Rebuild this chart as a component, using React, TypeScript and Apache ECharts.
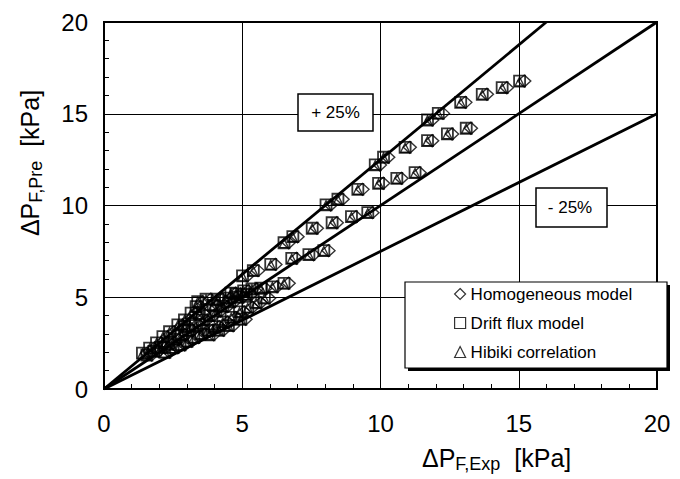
import React, { useEffect, useRef } from "react";
import * as echarts from "echarts";

const FONT = "'Liberation Sans', Arial, sans-serif";

const axisMin = 0;
const axisMax = 20;
const axisInterval = 5;

const legendNames = ["Homogeneous model", "Drift flux model", "Hibiki correlation"];

const upperLine = [[0, 0], [16, 20]];
const equalLine = [[0, 0], [20, 20]];
const lowerLine = [[0, 0], [20, 15]];

const driftFlux = [
  [15.03, 16.78], [14.4, 16.42], [13.68, 16.06], [12.9, 15.62], [12.09, 15.02], [11.7, 14.66],
  [13.1, 14.21], [12.42, 13.9], [11.7, 13.53],
  [10.89, 13.17], [10.11, 12.63], [9.81, 12.21],
  [11.25, 11.79], [10.59, 11.48], [9.93, 11.21], [9.18, 10.88],
  [8.46, 10.34], [8.03, 10.03],
  [9.54, 9.61], [8.95, 9.39], [8.25, 9.06], [7.53, 8.76],
  [6.83, 8.3], [6.51, 7.97],
  [7.95, 7.54], [7.41, 7.32], [6.79, 7.12],
  [6.03, 6.79], [5.4, 6.45], [5.01, 6.16],
  [6.51, 5.76], [6.09, 5.57], [5.67, 5.49], [4.77, 5.18],
  [1.39, 1.95], [1.65, 2.23], [1.9, 2.51], [2.13, 2.85], [2.37, 3.12], [2.67, 3.49], [2.91, 3.76],
  [3.15, 4.13], [3.33, 4.49], [3.39, 4.76], [3.69, 4.89], [4.11, 4.89], [4.59, 5.22],
  [1.55, 1.85], [1.8, 2.05], [2.05, 2.25], [2.3, 2.45], [2.55, 2.7], [2.8, 2.95], [3.05, 3.2],
  [3.3, 3.45], [3.55, 3.75], [3.8, 4.0], [4.05, 4.25], [4.3, 4.5], [4.55, 4.75], [4.85, 5.0], [5.15, 5.15],
  [2.2, 2.0], [2.5, 2.25], [2.75, 2.4], [3.0, 2.6], [3.25, 2.8], [3.5, 3.0], [3.75, 3.2],
  [4.0, 3.4], [4.3, 3.65], [4.6, 3.9], [4.9, 4.2], [5.2, 4.45], [5.5, 4.7], [5.8, 4.95],
  [2.9, 3.4], [3.45, 4.1], [3.95, 4.55], [4.4, 4.95], [5.05, 5.35], [5.35, 5.45],
  [3.8, 2.95], [4.15, 3.2], [4.5, 3.45], [4.95, 3.8],
];

const hibiki = [
  [15.03, 16.76], [14.4, 16.4], [13.68, 16.04], [12.9, 15.6], [12.09, 15.0], [11.7, 14.64],
  [13.1, 14.19], [12.42, 13.88], [11.7, 13.51],
  [10.89, 13.15], [10.11, 12.61], [9.81, 12.19],
  [11.25, 11.77], [10.59, 11.46], [9.93, 11.19], [9.18, 10.86],
  [8.46, 10.32], [8.03, 10.01],
  [9.54, 9.59], [8.95, 9.37], [8.25, 9.04], [7.53, 8.74],
  [6.83, 8.28], [6.51, 7.95],
  [7.95, 7.52], [7.41, 7.3], [6.79, 7.1],
  [6.03, 6.77], [5.4, 6.43], [5.01, 6.14],
  [6.51, 5.74], [6.09, 5.55], [5.67, 5.47], [4.77, 5.16],
  [1.39, 1.93], [1.65, 2.21], [1.9, 2.49], [2.13, 2.83], [2.37, 3.1], [2.67, 3.47], [2.91, 3.74],
  [3.15, 4.11], [3.33, 4.47], [3.39, 4.74], [3.69, 4.87], [4.11, 4.87], [4.59, 5.2],
  [1.55, 1.83], [1.8, 2.03], [2.05, 2.23], [2.3, 2.43], [2.55, 2.68], [2.8, 2.93], [3.05, 3.18],
  [3.3, 3.43], [3.55, 3.73], [3.8, 3.98], [4.05, 4.23], [4.3, 4.48], [4.55, 4.73], [4.85, 4.98], [5.15, 5.13],
  [2.2, 1.98], [2.5, 2.23], [2.75, 2.38], [3.0, 2.58], [3.25, 2.78], [3.5, 2.98], [3.75, 3.18],
  [4.0, 3.38], [4.3, 3.63], [4.6, 3.88], [4.9, 4.18], [5.2, 4.43], [5.5, 4.68], [5.8, 4.93],
  [2.9, 3.38], [3.45, 4.08], [3.95, 4.53], [4.4, 4.93], [5.05, 5.33], [5.35, 5.43],
  [3.8, 2.93], [4.15, 3.18], [4.5, 3.43], [4.95, 3.78],
];

const homogeneous = [
  [15.2, 16.78], [14.57, 16.42], [13.85, 16.06], [13.07, 15.62], [12.26, 15.02], [11.87, 14.66],
  [13.27, 14.21], [12.59, 13.9], [11.87, 13.53],
  [11.06, 13.17], [10.28, 12.63], [9.98, 12.21],
  [11.42, 11.79], [10.76, 11.48], [10.1, 11.21], [9.35, 10.88],
  [8.63, 10.34], [8.2, 10.03],
  [9.71, 9.61], [9.12, 9.39], [8.42, 9.06], [7.7, 8.76],
  [7.0, 8.3], [6.68, 7.97],
  [8.12, 7.54], [7.58, 7.32], [6.96, 7.12],
  [6.2, 6.79], [5.57, 6.45], [5.18, 6.16],
  [6.68, 5.76], [6.26, 5.57], [5.84, 5.49], [4.94, 5.18],
  [1.56, 1.95], [1.82, 2.23], [2.07, 2.51], [2.3, 2.85], [2.54, 3.12], [2.84, 3.49], [3.08, 3.76],
  [3.32, 4.13], [3.5, 4.49], [3.56, 4.76], [3.86, 4.89], [4.28, 4.89], [4.76, 5.22],
  [1.72, 1.85], [1.97, 2.05], [2.22, 2.25], [2.47, 2.45], [2.72, 2.7], [2.97, 2.95], [3.22, 3.2],
  [3.47, 3.45], [3.72, 3.75], [3.97, 4.0], [4.22, 4.25], [4.47, 4.5], [4.72, 4.75], [5.02, 5.0], [5.32, 5.15],
  [2.37, 2.0], [2.67, 2.25], [2.92, 2.4], [3.17, 2.6], [3.42, 2.8], [3.67, 3.0], [3.92, 3.2],
  [4.17, 3.4], [4.47, 3.65], [4.77, 3.9], [5.07, 4.2], [5.37, 4.45], [5.67, 4.7], [5.97, 4.95],
  [3.07, 3.4], [3.62, 4.1], [4.12, 4.55], [4.57, 4.95], [5.22, 5.35], [5.52, 5.45],
  [3.97, 2.95], [4.32, 3.2], [4.67, 3.45], [5.12, 3.8],
];

function makeAxis(margin: number) {
  return {
    type: "value",
    min: axisMin,
    max: axisMax,
    interval: axisInterval,
    axisLine: { show: true, onZero: false, lineStyle: { color: "#000", width: 2 } },
    axisTick: { show: true, inside: true, length: 6, lineStyle: { color: "#000", width: 1 } },
    minorTick: { show: true, splitNumber: 5, length: 5, lineStyle: { color: "#000", width: 1 } },
    splitLine: { show: true, lineStyle: { color: "#000", width: 1 } },
    axisLabel: { fontSize: 24, color: "#000", fontFamily: FONT, margin },
  };
}

const scatterStyle = { color: "transparent", borderColor: "#000", borderWidth: 1.4 };

const titleRich = {
  m: { fontSize: 25, fontFamily: FONT, fill: "#000", lineHeight: 30 },
  s: { fontSize: 18, fontFamily: FONT, fill: "#000", lineHeight: 18, verticalAlign: "bottom" },
};

const option = {
  animation: false,
  backgroundColor: "#fff",
  grid: {
    left: 104,
    top: 22,
    width: 553,
    height: 367,
    show: true,
    borderColor: "#000",
    borderWidth: 2,
    containLabel: false,
  },
  xAxis: makeAxis(22),
  yAxis: makeAxis(16),
  legend: {
    orient: "vertical",
    left: 449,
    top: 279,
    z: 60,
    itemWidth: 11,
    itemHeight: 11,
    itemGap: 9,
    textStyle: { fontSize: 17, color: "#000", fontFamily: FONT, lineHeight: 20 },
    itemStyle: { color: "transparent", borderColor: "#000", borderWidth: 1.2 },
    data: [
      { name: legendNames[0], icon: "diamond" },
      { name: legendNames[1], icon: "rect" },
      { name: legendNames[2], icon: "triangle" },
    ],
  },
  graphic: [
    { type: "rect", z: 50, shape: { x: 298, y: 94, width: 75, height: 37 }, style: { fill: "#fff", stroke: "#000", lineWidth: 1.5 } },
    { type: "text", z: 51, x: 335.5, y: 112.5, style: { text: "+ 25%", fontSize: 17, fontFamily: FONT, fill: "#000", textAlign: "center", textVerticalAlign: "middle" } },
    { type: "rect", z: 50, shape: { x: 536, y: 188, width: 71, height: 39 }, style: { fill: "#fff", stroke: "#000", lineWidth: 1.5 } },
    { type: "text", z: 51, x: 570, y: 207.5, style: { text: "- 25%", fontSize: 17, fontFamily: FONT, fill: "#000", textAlign: "center", textVerticalAlign: "middle" } },
    { type: "rect", z: 52, shape: { x: 408, y: 285, width: 262, height: 86 }, style: { fill: "#000", stroke: "none" } },
    { type: "rect", z: 53, shape: { x: 405, y: 282, width: 262, height: 86 }, style: { fill: "#fff", stroke: "#000", lineWidth: 1.2 } },
    {
      type: "text", z: 51, x: 422, y: 458,
      style: {
        text: "{m|ΔP}{s|F,Exp}{m|  [kPa]}",
        fill: "#000",
        textVerticalAlign: "middle",
        rich: titleRich,
      },
    },
    {
      type: "text", z: 51, x: 30, y: 163, rotation: Math.PI / 2,
      style: {
        text: "{m|ΔP}{s|F,Pre}{m|  [kPa]}",
        fill: "#000",
        textAlign: "center",
        textVerticalAlign: "middle",
        rich: titleRich,
      },
    },
  ],
  series: [
    { type: "line", data: upperLine, symbol: "none", silent: true, z: 3, lineStyle: { color: "#000", width: 2.8 } },
    { type: "line", data: equalLine, symbol: "none", silent: true, z: 3, lineStyle: { color: "#000", width: 2.8 } },
    { type: "line", data: lowerLine, symbol: "none", silent: true, z: 3, lineStyle: { color: "#000", width: 2.8 } },
    { name: legendNames[0], type: "scatter", data: homogeneous, symbol: "diamond", symbolSize: [13, 12], z: 4, itemStyle: scatterStyle },
    { name: legendNames[1], type: "scatter", data: driftFlux, symbol: "rect", symbolSize: 11, z: 5, itemStyle: { ...scatterStyle, borderWidth: 1.8 } },
    { name: legendNames[2], type: "scatter", data: hibiki, symbol: "triangle", symbolSize: 9, z: 6, itemStyle: scatterStyle },
  ],
};

export default function App() {
  const ref = useRef<HTMLDivElement>(null);
  useEffect(() => {
    const chart = echarts.init(ref.current as HTMLDivElement, null, { renderer: "svg" });
    chart.setOption(option as any);
    return () => chart.dispose();
  }, []);
  return <div ref={ref} style={{ position: "absolute", left: 0, top: 0, width: 680, height: 479 }} />;
}
